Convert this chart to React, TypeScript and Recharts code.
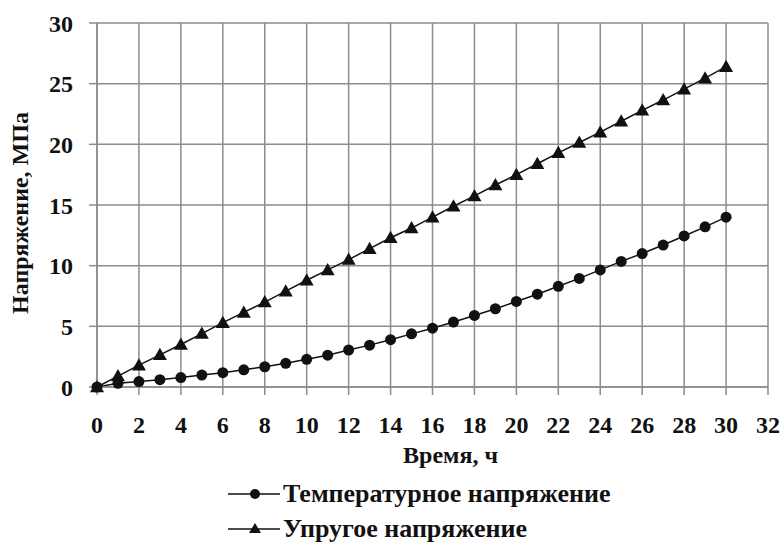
import { LineChart, Line, XAxis, YAxis, CartesianGrid, Legend } from 'recharts';

const hours = [
  0, 1, 2, 3, 4, 5, 6, 7, 8, 9, 10, 11, 12, 13, 14, 15,
  16, 17, 18, 19, 20, 21, 22, 23, 24, 25, 26, 27, 28, 29, 30,
];
const thermalStress = [
  0, 0.3, 0.45, 0.6, 0.78, 0.98, 1.18, 1.42, 1.67, 1.95, 2.28, 2.62, 3.05, 3.45, 3.9, 4.38,
  4.85, 5.35, 5.9, 6.45, 7.05, 7.65, 8.3, 8.95, 9.65, 10.35, 11.0, 11.7, 12.45, 13.2, 14.0,
];
const elasticStress = [
  0, 0.9, 1.8, 2.65, 3.5, 4.4, 5.3, 6.15, 7.0, 7.9, 8.8, 9.65, 10.5, 11.4, 12.3, 13.1,
  14.0, 14.9, 15.75, 16.65, 17.5, 18.4, 19.3, 20.15, 21.0, 21.9, 22.8, 23.65, 24.55, 25.45, 26.4,
];
const xTicks = [0, 2, 4, 6, 8, 10, 12, 14, 16, 18, 20, 22, 24, 26, 28, 30, 32];
const yTicks = [0, 5, 10, 15, 20, 25, 30];

const SERIES_THERMAL = 'Температурное напряжение';
const SERIES_ELASTIC = 'Упругое напряжение';

const data = hours.map((h, i) => ({
  h,
  thermal: thermalStress[i],
  elastic: elasticStress[i],
}));

const FONT = 'Liberation Serif';
const GRID = '#8c8c8c';
const INK = '#111';

const CircleDot = (props: any) => {
  const { cx, cy } = props;
  if (cx == null || cy == null) return null;
  return <circle cx={cx} cy={cy} r={5.5} fill={INK} stroke="none" />;
};

const TriangleDot = (props: any) => {
  const { cx, cy } = props;
  if (cx == null || cy == null) return null;
  const s = 7;
  return (
    <polygon
      points={`${cx},${cy - s} ${cx - s},${cy + s * 0.75} ${cx + s},${cy + s * 0.75}`}
      fill={INK}
      stroke="none"
    />
  );
};

const YLabel = ({ viewBox }: any) => {
  const cy = viewBox.y + viewBox.height / 2 + 8;
  const cx = 20;
  return (
    <text
      x={cx}
      y={cy}
      transform={`rotate(-90, ${cx}, ${cy})`}
      textAnchor="middle"
      dominantBaseline="central"
      fontFamily={FONT}
      fontWeight={700}
      fontSize={24}
      fill={INK}
    >
      Напряжение, МПа
    </text>
  );
};

const LegendBox = () => {
  const row = (label: string, marker: 'circle' | 'triangle') => (
    <div style={{ display: 'flex', alignItems: 'center', height: 35 }}>
      <svg width={52} height={20} style={{ marginRight: 3 }}>
        <line x1={0} y1={10} x2={52} y2={10} stroke={INK} strokeWidth={1.5} />
        {marker === 'circle' ? (
          <circle cx={27} cy={10} r={5} fill={INK} />
        ) : (
          <polygon points="27,4 21,14 33,14" fill={INK} />
        )}
      </svg>
      <span>{label}</span>
    </div>
  );
  return (
    <div style={{ fontFamily: FONT, fontWeight: 700, fontSize: 26, color: INK, lineHeight: 1 }}>
      {row(SERIES_THERMAL, 'circle')}
      {row(SERIES_ELASTIC, 'triangle')}
    </div>
  );
};

export default function App() {
  const tickStyle = { fontFamily: FONT, fontWeight: 700, fontSize: 24, fill: INK };
  return (
    <div style={{ position: 'absolute', left: 0, top: 0, width: 782, height: 542, background: '#fff' }}>
      <LineChart
        width={782}
        height={542}
        data={data}
        margin={{ top: 23, right: 14, left: 0, bottom: 65 }}
      >
        <CartesianGrid stroke={GRID} strokeWidth={1.5} />
        <XAxis
          dataKey="h"
          type="number"
          domain={[0, 32]}
          ticks={xTicks}
          interval={0}
          height={90}
          tickSize={8}
          tickMargin={21}
          stroke={GRID}
          strokeWidth={1.5}
          tick={tickStyle}
          label={{
            value: 'Время, ч',
            position: 'insideBottom',
            offset: 14,
            dx: 18,
            fontFamily: FONT,
            fontWeight: 700,
            fontSize: 24,
            fill: INK,
          }}
        />
        <YAxis
          type="number"
          domain={[0, 30]}
          ticks={yTicks}
          interval={0}
          width={97}
          tickSize={8}
          tickMargin={16}
          stroke={GRID}
          strokeWidth={1.5}
          tick={tickStyle}
          label={<YLabel />}
        />
        <Legend
          layout="vertical"
          verticalAlign="middle"
          align="center"
          content={<LegendBox />}
          wrapperStyle={{ left: 228, top: 476, width: 540 }}
        />
        <Line
          type="linear"
          dataKey="thermal"
          name={SERIES_THERMAL}
          stroke={INK}
          strokeWidth={1.5}
          dot={<CircleDot />}
          activeDot={false}
          isAnimationActive={false}
        />
        <Line
          type="linear"
          dataKey="elastic"
          name={SERIES_ELASTIC}
          stroke={INK}
          strokeWidth={1.5}
          dot={<TriangleDot />}
          activeDot={false}
          isAnimationActive={false}
        />
      </LineChart>
    </div>
  );
}
